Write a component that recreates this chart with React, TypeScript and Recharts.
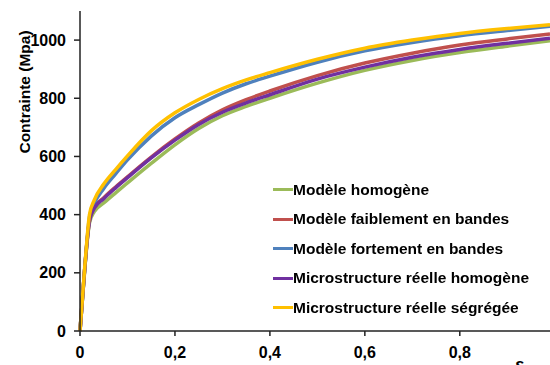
import { LineChart, Line, XAxis, YAxis, Legend } from "recharts";

const strain = [0, 0.005, 0.01, 0.015, 0.02, 0.03, 0.05, 0.075, 0.1, 0.15, 0.2, 0.25, 0.3, 0.35, 0.4, 0.5, 0.6, 0.7, 0.8, 0.9, 0.99];

const homogene = [0, 105, 210, 305, 372, 410, 440, 475, 509, 576, 640, 696, 740, 772, 800, 852, 896, 930, 957, 979, 998];
const faiblement = [0, 108, 215, 310, 380, 425, 458, 495, 530, 598, 660, 715, 760, 795, 825, 878, 921, 955, 983, 1004, 1021];
const fortement = [0, 108, 215, 315, 392, 438, 490, 540, 588, 670, 733, 778, 818, 850, 876, 924, 963, 992, 1015, 1033, 1048];
const reelleHomogene = [0, 108, 215, 310, 378, 422, 455, 492, 527, 595, 656, 710, 752, 784, 812, 866, 907, 941, 968, 989, 1006];
const reelleSegregee = [0, 110, 220, 320, 400, 450, 505, 555, 602, 688, 750, 796, 833, 863, 888, 934, 972, 1000, 1023, 1040, 1053];

const xTicks = [0, 0.2, 0.4, 0.6, 0.8];
const yTicks = [0, 200, 400, 600, 800, 1000];

const series = [
  { key: "homogene", name: "Modèle homogène", color: "#9BBB59", values: homogene },
  { key: "faiblement", name: "Modèle faiblement en bandes", color: "#C0504D", values: faiblement },
  { key: "fortement", name: "Modèle fortement en bandes", color: "#4F81BD", values: fortement },
  { key: "reelleHomogene", name: "Microstructure réelle homogène", color: "#7030A0", values: reelleHomogene },
  { key: "reelleSegregee", name: "Microstructure réelle ségrégée", color: "#FFC000", values: reelleSegregee },
];

const data = strain.map((eps, i) => {
  const row: Record<string, number> = { eps };
  series.forEach((s) => (row[s.key] = s.values[i]));
  return row;
});

const font = "'Liberation Sans', Arial, sans-serif";

const renderLegend = () => (
  <div style={{ fontFamily: font, fontWeight: "bold", fontSize: 15.5, color: "#000" }}>
    {series.map((s) => (
      <div key={s.key} style={{ display: "flex", alignItems: "center", height: 29.5 }}>
        <span style={{ display: "inline-block", width: 20, height: 3, background: s.color }} />
        <span style={{ whiteSpace: "nowrap" }}>{s.name}</span>
      </div>
    ))}
  </div>
);

export default function App() {
  return (
    <div style={{ position: "fixed", left: 0, top: 0, background: "#fff" }}>
      <LineChart width={550} height={365} data={data} margin={{ top: 11, right: 0, left: 0, bottom: 0 }}>
        <XAxis
          dataKey="eps"
          type="number"
          domain={[0, 0.99]}
          ticks={xTicks}
          tickFormatter={(v: number) => String(v).replace(".", ",")}
          height={34}
          tickSize={5}
          tickMargin={11}
          axisLine={{ stroke: "#222", strokeWidth: 1.5 }}
          tickLine={{ stroke: "#222", strokeWidth: 1.5 }}
          tick={{ fill: "#000", fontSize: 16, fontWeight: "bold", fontFamily: font }}
          label={{
            value: "ε",
            content: () => (
              <text x={519} y={371} fontSize={18} fontWeight="bold" fontStyle="italic" fontFamily={font} fill="#000" textAnchor="middle">
                ε
              </text>
            ),
          }}
        />
        <YAxis
          type="number"
          domain={[0, 1100]}
          ticks={yTicks}
          width={80}
          tickSize={6}
          tickMargin={8}
          axisLine={{ stroke: "#222", strokeWidth: 1.5 }}
          tickLine={{ stroke: "#222", strokeWidth: 1.5 }}
          tick={{ fill: "#000", fontSize: 16, fontWeight: "bold", fontFamily: font }}
          label={{
            value: "Contrainte (Mpa)",
            angle: -90,
            position: "insideTopLeft",
            content: () => (
              <text x={24} y={92} transform="rotate(-90 24 92)" fontSize={15.5} fontWeight="bold" fontFamily={font} fill="#000" textAnchor="middle" dominantBaseline="central">
                Contrainte (Mpa)
              </text>
            ),
          }}
        />
        <Legend
          layout="horizontal"
          verticalAlign="middle"
          align="center"
          content={renderLegend}
          wrapperStyle={{ left: 273, top: 175, width: 280, height: 150 }}
        />
        {series.map((s) => (
          <Line
            key={s.key}
            dataKey={s.key}
            name={s.name}
            type="monotone"
            stroke={s.color}
            strokeWidth={3.5}
            dot={false}
            isAnimationActive={false}
          />
        ))}
      </LineChart>
    </div>
  );
}
